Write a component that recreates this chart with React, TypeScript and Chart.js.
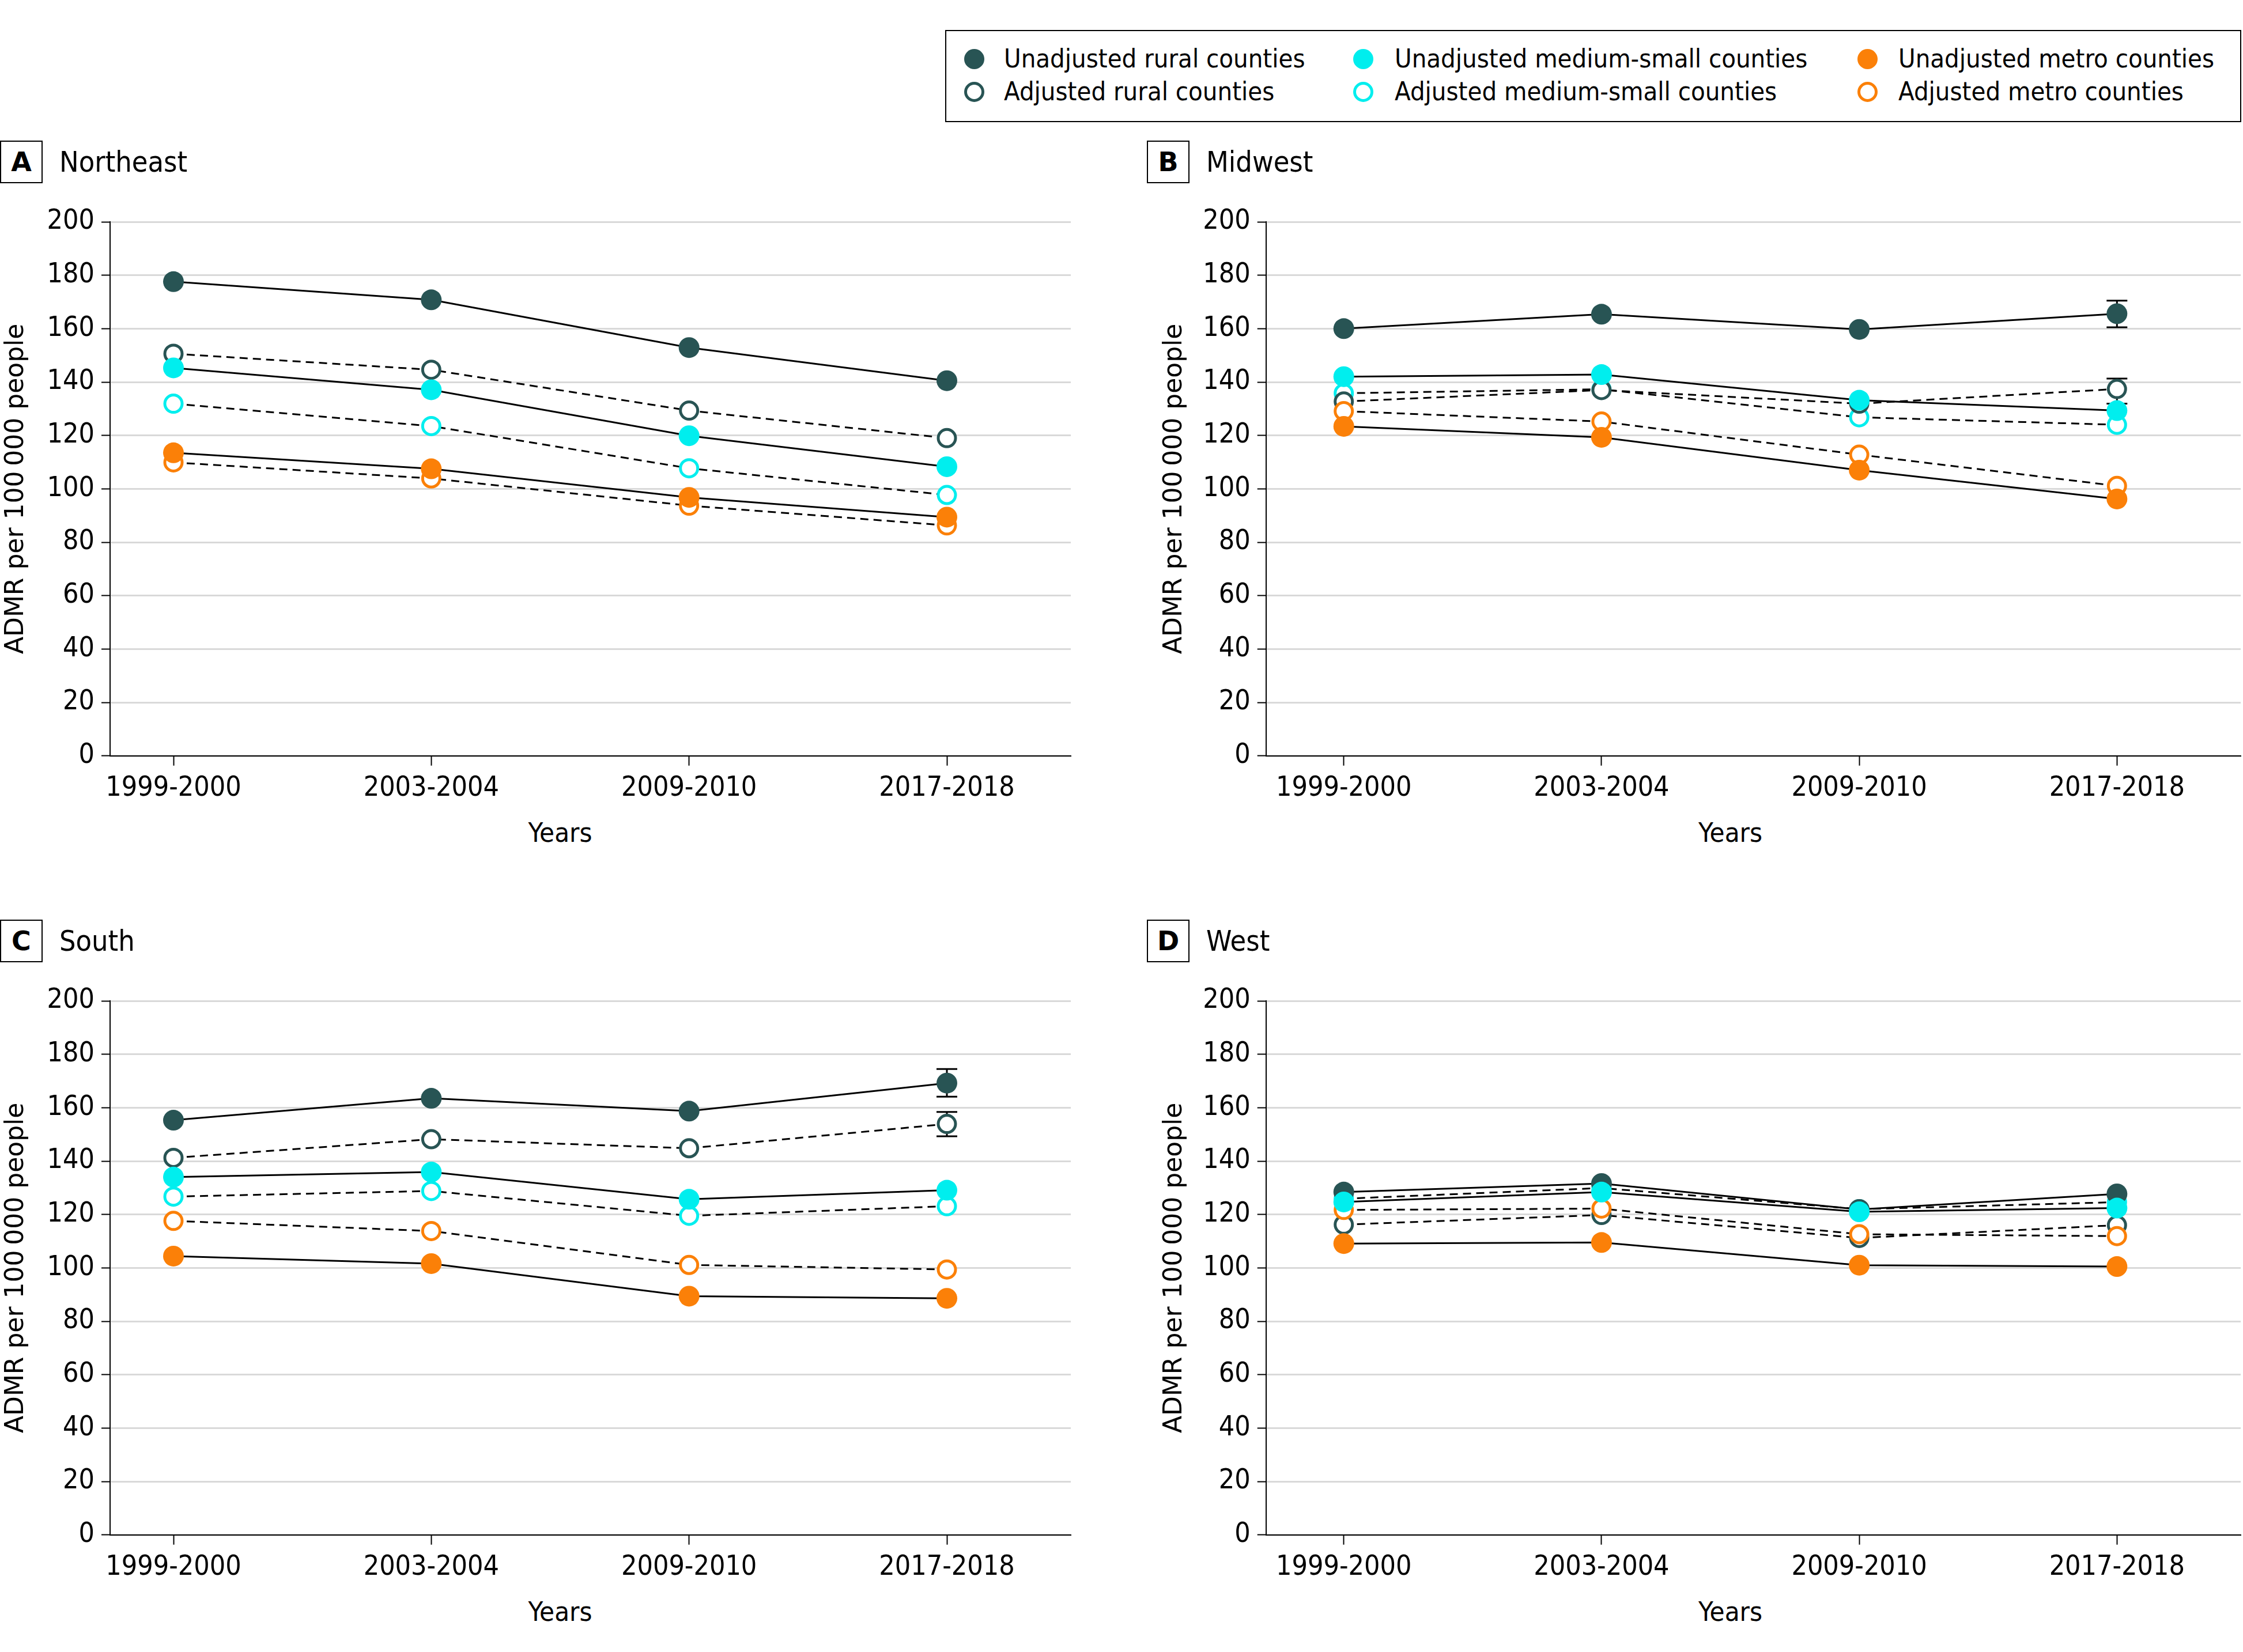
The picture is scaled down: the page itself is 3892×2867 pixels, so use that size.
import React, { useEffect, useRef } from "react";
import { Chart, registerables } from "chart.js";

Chart.register(...registerables);

// ---------- DATA ----------
const YEAR_LABELS = ["1999-2000", "2003-2004", "2009-2010", "2017-2018"];
const SERIES_NAMES = [
  "Unadjusted rural counties",
  "Adjusted rural counties",
  "Unadjusted medium-small counties",
  "Adjusted medium-small counties",
  "Unadjusted metro counties",
  "Adjusted metro counties",
];

// A Northeast
const NE_UNADJ_RURAL = [177.6, 170.8, 152.9, 140.5];
const NE_ADJ_RURAL = [150.6, 144.6, 129.3, 119.0];
const NE_UNADJ_MED = [145.3, 137.1, 119.9, 108.3];
const NE_ADJ_MED = [131.9, 123.5, 107.7, 97.7];
const NE_UNADJ_METRO = [113.5, 107.5, 96.8, 89.4];
const NE_ADJ_METRO = [109.9, 103.9, 93.7, 86.3];

// B Midwest
const MW_UNADJ_RURAL = [160.0, 165.4, 159.7, 165.6];
const MW_ADJ_RURAL = [132.7, 137.0, 131.9, 137.4];
const MW_UNADJ_MED = [142.0, 142.8, 133.2, 129.3];
const MW_ADJ_MED = [135.8, 137.3, 126.8, 124.0];
const MW_UNADJ_METRO = [123.4, 119.3, 107.0, 96.2];
const MW_ADJ_METRO = [129.1, 125.2, 112.8, 101.1];
const MW_UNADJ_RURAL_LOW = [null, null, null, 160.5];
const MW_UNADJ_RURAL_HIGH = [null, null, null, 170.5];
const MW_ADJ_RURAL_LOW = [null, null, null, 131.9];
const MW_ADJ_RURAL_HIGH = [null, null, null, 141.3];

// C South
const SO_UNADJ_RURAL = [155.3, 163.5, 158.7, 169.2];
const SO_ADJ_RURAL = [141.2, 148.2, 144.8, 153.9];
const SO_UNADJ_MED = [134.0, 135.9, 125.7, 129.1];
const SO_ADJ_MED = [126.7, 128.8, 119.5, 123.1];
const SO_UNADJ_METRO = [104.4, 101.6, 89.4, 88.6];
const SO_ADJ_METRO = [117.6, 113.8, 101.1, 99.4];
const SO_UNADJ_RURAL_LOW = [null, null, null, 164.1];
const SO_UNADJ_RURAL_HIGH = [null, null, null, 174.5];
const SO_ADJ_RURAL_LOW = [null, null, null, 149.3];
const SO_ADJ_RURAL_HIGH = [null, null, null, 158.4];

// D West
const WE_UNADJ_RURAL = [128.4, 131.6, 121.9, 127.7];
const WE_ADJ_RURAL = [116.2, 119.8, 111.2, 116.0];
const WE_UNADJ_MED = [124.7, 128.4, 121.0, 122.4];
const WE_ADJ_MED = [125.9, 129.9, 122.0, 124.6];
const WE_UNADJ_METRO = [109.1, 109.5, 101.0, 100.5];
const WE_ADJ_METRO = [121.7, 122.2, 112.6, 111.9];

// ---------- STYLE ----------
const C_RURAL = "#285454";
const C_MED = "#00eeee";
const C_METRO = "#fb8008";
const COND = "'DejaVu Sans Condensed', 'DejaVu Sans', sans-serif";
const WIDE = "'DejaVu Sans', sans-serif";

type Series = { unadjRural: number[]; adjRural: number[]; unadjMed: number[]; adjMed: number[]; unadjMetro: number[]; adjMetro: number[] };
type Bar = { values: number[]; low: (number | null)[]; high: (number | null)[] };

type PanelDef = {
  letter: string;
  name: string;
  canvas: { left: number; top: number; width: number; height: number };
  area: { left: number; top: number; right: number; bottom: number };
  tick0: number;
  tick3: number;
  series: Series;
  bars: Bar[];
};

const PANELS: PanelDef[] = [
  {
    letter: "A",
    name: "Northeast",
    canvas: { left: 0, top: 340, width: 1900, height: 1080 },
    area: { left: 191, top: 385, right: 1858, bottom: 1311.7 },
    tick0: 301,
    tick3: 1643,
    series: { unadjRural: NE_UNADJ_RURAL, adjRural: NE_ADJ_RURAL, unadjMed: NE_UNADJ_MED, adjMed: NE_ADJ_MED, unadjMetro: NE_UNADJ_METRO, adjMetro: NE_ADJ_METRO },
    bars: [],
  },
  {
    letter: "B",
    name: "Midwest",
    canvas: { left: 2010, top: 340, width: 1882, height: 1080 },
    area: { left: 2196.7, top: 385, right: 3888, bottom: 1311.7 },
    tick0: 2331.7,
    tick3: 3673.3,
    series: { unadjRural: MW_UNADJ_RURAL, adjRural: MW_ADJ_RURAL, unadjMed: MW_UNADJ_MED, adjMed: MW_ADJ_MED, unadjMetro: MW_UNADJ_METRO, adjMetro: MW_ADJ_METRO },
    bars: [
      { values: MW_UNADJ_RURAL, low: MW_UNADJ_RURAL_LOW, high: MW_UNADJ_RURAL_HIGH },
      { values: MW_ADJ_RURAL, low: MW_ADJ_RURAL_LOW, high: MW_ADJ_RURAL_HIGH },
    ],
  },
  {
    letter: "C",
    name: "South",
    canvas: { left: 0, top: 1692, width: 1900, height: 1080 },
    area: { left: 191, top: 1737, right: 1858, bottom: 2663.7 },
    tick0: 301,
    tick3: 1643,
    series: { unadjRural: SO_UNADJ_RURAL, adjRural: SO_ADJ_RURAL, unadjMed: SO_UNADJ_MED, adjMed: SO_ADJ_MED, unadjMetro: SO_UNADJ_METRO, adjMetro: SO_ADJ_METRO },
    bars: [
      { values: SO_UNADJ_RURAL, low: SO_UNADJ_RURAL_LOW, high: SO_UNADJ_RURAL_HIGH },
      { values: SO_ADJ_RURAL, low: SO_ADJ_RURAL_LOW, high: SO_ADJ_RURAL_HIGH },
    ],
  },
  {
    letter: "D",
    name: "West",
    canvas: { left: 2010, top: 1692, width: 1882, height: 1080 },
    area: { left: 2196.7, top: 1737, right: 3888, bottom: 2663.7 },
    tick0: 2331.7,
    tick3: 3673.3,
    series: { unadjRural: WE_UNADJ_RURAL, adjRural: WE_ADJ_RURAL, unadjMed: WE_UNADJ_MED, adjMed: WE_ADJ_MED, unadjMetro: WE_UNADJ_METRO, adjMetro: WE_ADJ_METRO },
    bars: [],
  },
];

const errorBarPlugin = {
  id: "errorBars",
  beforeDatasetsDraw(chart: any, _args: any, opts: any) {
    const bars: Bar[] = opts.bars || [];
    const ctx = chart.ctx;
    const xs = chart.scales.x;
    const ys = chart.scales.y;
    ctx.save();
    ctx.strokeStyle = "#000";
    ctx.lineWidth = 3;
    bars.forEach((b) => {
      b.low.forEach((lo, i) => {
        const hi = b.high[i];
        if (lo == null || hi == null) return;
        const px = xs.getPixelForValue(i);
        const y1 = ys.getPixelForValue(lo);
        const y2 = ys.getPixelForValue(hi);
        ctx.beginPath();
        ctx.moveTo(px, y1);
        ctx.lineTo(px, y2);
        ctx.moveTo(px - 18, y1);
        ctx.lineTo(px + 18, y1);
        ctx.moveTo(px - 18, y2);
        ctx.lineTo(px + 18, y2);
        ctx.stroke();
      });
    });
    ctx.restore();
  },
};

function toPts(vals: number[]) {
  return vals.map((v, i) => ({ x: i, y: v }));
}

function mkDs(vals: number[], color: string, filled: boolean) {
  return {
    data: toPts(vals),
    borderColor: "#000",
    borderWidth: 3,
    borderDash: filled ? [] : [14, 9],
    pointRadius: filled ? 18 : 15,
    pointBorderWidth: filled ? 0 : 5,
    pointBackgroundColor: filled ? color : "#fff",
    pointBorderColor: color,
    pointHoverRadius: filled ? 18 : 15,
    tension: 0,
    fill: false,
  };
}

function PanelChart({ p }: { p: PanelDef }) {
  const ref = useRef<HTMLCanvasElement | null>(null);
  useEffect(() => {
    if (!ref.current) return;
    const c = p.canvas;
    const a = p.area;
    const spacing = (p.tick3 - p.tick0) / 3;
    const xMin = -(p.tick0 - a.left) / spacing;
    const xMax = 3 + (a.right - p.tick3) / spacing;
    const yWidth = a.left - c.left;
    const xHeight = c.top + c.height - a.bottom;
    const s = p.series;
    const chart = new Chart(ref.current, {
      type: "line",
      data: {
        datasets: [
          mkDs(s.unadjMed, C_MED, true),
          mkDs(s.unadjRural, C_RURAL, true),
          mkDs(s.unadjMetro, C_METRO, true),
          mkDs(s.adjMetro, C_METRO, false),
          mkDs(s.adjRural, C_RURAL, false),
          mkDs(s.adjMed, C_MED, false),
        ] as any,
      },
      options: {
        responsive: false,
        maintainAspectRatio: false,
        devicePixelRatio: 1,
        animation: false,
        events: [],
        layout: {
          autoPadding: false,
          padding: { top: a.top - c.top, right: c.left + c.width - a.right, left: 0, bottom: 0 },
        },
        plugins: {
          legend: { display: false },
          tooltip: { enabled: false },
          errorBars: { bars: p.bars },
        } as any,
        scales: {
          x: {
            type: "linear",
            min: xMin,
            max: xMax,
            afterBuildTicks: (sc: any) => {
              sc.ticks = YEAR_LABELS.map((_, i) => ({ value: i }));
            },
            afterFit: (sc: any) => {
              sc.height = xHeight;
            },
            ticks: {
              color: "#000",
              autoSkip: false,
              maxRotation: 0,
              minRotation: 0,
              padding: 11,
              font: { family: COND, size: 48 },
              callback: (v: any) => YEAR_LABELS[Math.round(v)] ?? "",
            },
            grid: { drawOnChartArea: false, drawTicks: true, tickLength: 17, tickColor: "#000", tickWidth: 2 },
            border: { display: true, color: "#000", width: 2 },
          },
          y: {
            type: "linear",
            min: 0,
            max: 200,
            afterFit: (sc: any) => {
              sc.width = yWidth;
            },
            ticks: {
              stepSize: 20,
              color: "#000",
              padding: 12,
              font: { family: COND, size: 48 },
            },
            grid: { color: "#d9d9d9", lineWidth: 3, drawTicks: true, tickLength: 15, tickColor: "#000", tickWidth: 2 },
            border: { display: true, color: "#000", width: 2 },
            title: {
              display: true,
              text: "ADMR per 100\u2009000 people",
              color: "#000",
              font: { family: WIDE, size: 44 },
              padding: { top: 2, bottom: 0 },
            },
          },
        } as any,
      },
      plugins: [errorBarPlugin as any],
    });
    return () => chart.destroy();
  }, [p]);
  const c = p.canvas;
  return (
    <canvas
      ref={ref}
      width={c.width}
      height={c.height}
      style={{ position: "absolute", left: c.left, top: c.top, width: c.width, height: c.height }}
    />
  );
}

function PanelHeader({ p }: { p: PanelDef }) {
  const boxLeft = p.area.left < 1000 ? 0 : 1990;
  const textLeft = boxLeft + 103;
  const cy = p.area.top - 104;
  return (
    <>
      <div
        style={{
          position: "absolute",
          left: boxLeft,
          top: cy - 37,
          width: 74,
          height: 74,
          boxSizing: "border-box",
          border: "2.5px solid #000",
          display: "flex",
          alignItems: "center",
          justifyContent: "center",
          fontFamily: WIDE,
          fontWeight: "bold",
          fontSize: 46,
          lineHeight: "74px",
        }}
      >
        {p.letter}
      </div>
      <div
        style={{
          position: "absolute",
          left: textLeft,
          top: cy - 40,
          height: 80,
          lineHeight: "80px",
          fontFamily: COND,
          fontSize: 50,
          whiteSpace: "nowrap",
        }}
      >
        {p.name}
      </div>
      <div
        style={{
          position: "absolute",
          left: (p.tick0 + p.tick3) / 2 - 200,
          width: 400,
          top: p.area.bottom + 133 - 40,
          height: 80,
          lineHeight: "80px",
          textAlign: "center",
          fontFamily: COND,
          fontSize: 47,
        }}
      >
        Years
      </div>
    </>
  );
}

function LegendMarker({ color, filled }: { color: string; filled: boolean }) {
  return (
    <div
      style={{
        width: 35,
        height: 35,
        borderRadius: "50%",
        boxSizing: "border-box",
        background: filled ? color : "#fff",
        border: filled ? "none" : `5px solid ${color}`,
      }}
    />
  );
}

function Legend() {
  const cols = [
    { mx: 1690, tx: 1742, color: C_RURAL, names: [SERIES_NAMES[0], SERIES_NAMES[1]] },
    { mx: 2365, tx: 2420, color: C_MED, names: [SERIES_NAMES[2], SERIES_NAMES[3]] },
    { mx: 3240, tx: 3294, color: C_METRO, names: [SERIES_NAMES[4], SERIES_NAMES[5]] },
  ];
  const rows = [102, 159];
  return (
    <>
      <div
        style={{
          position: "absolute",
          left: 1640,
          top: 52,
          width: 2249,
          height: 160,
          boxSizing: "border-box",
          border: "2.5px solid #000",
        }}
      />
      {cols.map((c) =>
        rows.map((cy, r) => (
          <React.Fragment key={c.mx + "-" + r}>
            <div style={{ position: "absolute", left: c.mx - 17.5, top: cy - 17.5 }}>
              <LegendMarker color={c.color} filled={r === 0} />
            </div>
            <div
              style={{
                position: "absolute",
                left: c.tx,
                top: cy - 30,
                height: 60,
                lineHeight: "60px",
                fontFamily: COND,
                fontSize: 45,
                whiteSpace: "nowrap",
              }}
            >
              {c.names[r]}
            </div>
          </React.Fragment>
        ))
      )}
    </>
  );
}

export default function App() {
  return (
    <div
      style={{
        position: "absolute",
        left: 0,
        top: 0,
        width: 3892,
        height: 2867,
        background: "#fff",
        overflow: "hidden",
        color: "#000",
      }}
    >
      <Legend />
      {PANELS.map((p) => (
        <React.Fragment key={p.letter}>
          <PanelHeader p={p} />
          <PanelChart p={p} />
        </React.Fragment>
      ))}
    </div>
  );
}
